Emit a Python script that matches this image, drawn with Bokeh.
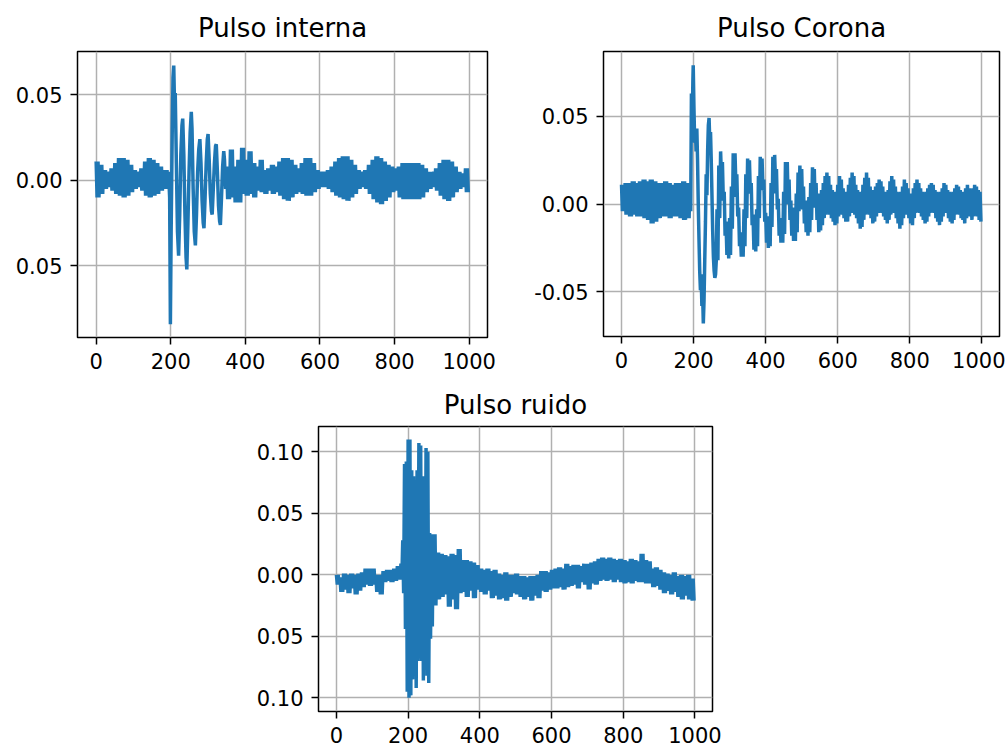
from bokeh.plotting import figure
from bokeh.layouts import column, row
from bokeh.models import Range1d, FixedTicker
from bokeh.embed import file_html
from bokeh.resources import INLINE

# ---------------- data ----------------
x_ticks = [0, 200, 400, 600, 800, 1000]

# Pulso interna: envelope (upper / lower) of the dense signal, 10-sample bins
interna_pre_x0 = 0
interna_pre_up = [0.011, 0.009, 0.006, 0.005, 0.007, 0.010, 0.013, 0.013, 0.012, 0.009,
                  0.006, 0.005, 0.007, 0.011, 0.013, 0.012, 0.010, 0.008, 0.006]
interna_pre_lo = [-0.010, -0.008, -0.005, -0.004, -0.006, -0.008, -0.009, -0.010, -0.009, -0.007,
                  -0.005, -0.004, -0.006, -0.009, -0.010, -0.009, -0.008, -0.006, -0.005]
interna_pulse_x = [190, 192, 194, 197, 199, 201, 204, 206, 208, 210, 212, 215, 218, 221, 224, 227,
                   230, 232, 235, 238, 241, 243, 246, 249, 252, 255, 257, 260, 263, 266, 269, 272,
                   275, 278, 281, 284, 287, 289, 292, 295, 298, 300, 303, 306, 309, 311, 314, 317,
                   320, 322, 325, 328, 331, 333, 336, 339, 342, 344, 347]
interna_pulse_y = [0.006, -0.005, 0.005, -0.010, -0.084, -0.030, 0.030, 0.060, 0.067, 0.045, 0.051,
                   0.010, -0.030, -0.044, -0.020, 0.015, 0.032, 0.036, 0.015, -0.020, -0.045, -0.052,
                   -0.025, 0.005, 0.028, 0.040, 0.030, -0.005, -0.030, -0.038, -0.020, 0.005,
                   0.018, 0.024, 0.010, -0.012, -0.025, -0.028, -0.010, 0.010, 0.024, 0.027,
                   0.012, -0.008, -0.018, -0.020, -0.005, 0.010, 0.020, 0.021, 0.005, -0.015,
                   -0.024, -0.026, -0.010, 0.008, 0.017, 0.012, -0.005]
interna_post_x0 = 350
interna_post_up = [0.008, 0.018, 0.008, 0.012, 0.019, 0.012, 0.017, 0.010, 0.008, 0.012,
                   0.006, 0.007, 0.009, 0.008, 0.011, 0.013, 0.013, 0.012, 0.009, 0.007,
                   0.010, 0.013, 0.013, 0.010, 0.006, 0.005, 0.005, 0.006, 0.008, 0.011,
                   0.013, 0.014, 0.014, 0.012, 0.009, 0.006, 0.005, 0.006, 0.009, 0.012,
                   0.014, 0.013, 0.011, 0.009, 0.008, 0.007, 0.008, 0.010, 0.010, 0.010,
                   0.010, 0.010, 0.009, 0.007, 0.005, 0.005, 0.007, 0.010, 0.012, 0.012,
                   0.011, 0.008, 0.005, 0.004, 0.007]
interna_post_lo = [-0.011, -0.010, -0.013, -0.013, -0.008, -0.009, -0.008, -0.010, -0.006, -0.007,
                   -0.008, -0.006, -0.008, -0.007, -0.009, -0.011, -0.012, -0.010, -0.008, -0.007,
                   -0.008, -0.009, -0.009, -0.007, -0.005, -0.004, -0.004, -0.005, -0.007, -0.009,
                   -0.010, -0.011, -0.012, -0.010, -0.008, -0.005, -0.004, -0.005, -0.008, -0.011,
                   -0.013, -0.014, -0.012, -0.010, -0.007, -0.006, -0.010, -0.011, -0.011, -0.011,
                   -0.011, -0.011, -0.010, -0.007, -0.005, -0.004, -0.006, -0.009, -0.011, -0.012,
                   -0.010, -0.007, -0.005, -0.004, -0.007]

# Pulso Corona
corona_pre_x0 = 0
corona_pre_up = [0.011, 0.012, 0.012, 0.013, 0.012, 0.013, 0.014, 0.013, 0.014, 0.013,
                 0.012, 0.012, 0.013, 0.012, 0.011, 0.012, 0.012, 0.013, 0.012]
corona_pre_lo = [-0.004, -0.006, -0.007, -0.006, -0.007, -0.007, -0.008, -0.009, -0.011, -0.010,
                 -0.008, -0.007, -0.007, -0.008, -0.007, -0.007, -0.008, -0.009, -0.008]
corona_pulse_x = [190, 192, 194, 196, 198, 199, 201, 203, 205, 207, 209, 211, 213, 215, 217, 219,
                  221, 223, 225, 227, 229, 231, 233, 235, 237, 239, 241, 243, 245, 247, 249, 251,
                  253, 255, 257, 259, 261, 263]
corona_pulse_y = [0.012, -0.004, 0.063, 0.040, 0.070, 0.079, 0.055, 0.035, 0.043, 0.030, 0.043,
                  0.025, 0.000, -0.020, -0.038, -0.049, -0.040, -0.058, -0.050, -0.068, -0.055,
                  -0.032, -0.010, 0.017, 0.005, 0.030, 0.045, 0.049, 0.035, 0.041, 0.025, 0.005,
                  -0.015, -0.030, -0.038, -0.042, -0.040, -0.032]
corona_post_x0 = 265
corona_post_up = [-0.003, 0.022, 0.030, 0.024, 0.007, -0.010, -0.016, -0.008, 0.010, 0.029,
                  0.029, 0.017, -0.002, -0.016, -0.018, -0.003, 0.017, 0.026, 0.025, 0.012,
                  -0.006, -0.014, -0.003, 0.016, 0.027, 0.026, 0.014, -0.005, -0.012, -0.007,
                  0.012, 0.027, 0.028, 0.020, 0.003, -0.008, -0.008, 0.007, 0.024, 0.024,
                  0.014, 0.002, -0.002, -0.002, 0.006, 0.018, 0.022, 0.020, 0.010, 0.002,
                  0.002, 0.004, 0.012, 0.021, 0.020, 0.012, 0.004,
                  0.006, 0.008, 0.012, 0.016, 0.018, 0.016, 0.011, 0.008, 0.006, 0.007,
                  0.011, 0.016, 0.014, 0.009, 0.006, 0.007, 0.011, 0.015, 0.018, 0.016,
                  0.011, 0.008, 0.006, 0.007, 0.011, 0.015, 0.018, 0.015, 0.010, 0.007,
                  0.008, 0.010, 0.012, 0.014, 0.013, 0.010, 0.007, 0.006, 0.008, 0.013,
                  0.016, 0.014, 0.010, 0.007, 0.006, 0.007, 0.010, 0.014, 0.012, 0.009,
                  0.006, 0.006, 0.009, 0.012, 0.014, 0.012, 0.009, 0.007, 0.006, 0.007,
                  0.009, 0.011, 0.012, 0.011, 0.008, 0.007, 0.006, 0.007, 0.009, 0.012,
                  0.011, 0.008, 0.007, 0.006, 0.007, 0.009, 0.011, 0.010, 0.008, 0.007,
                  0.006, 0.009, 0.011, 0.009, 0.007, 0.009, 0.011, 0.010, 0.008, 0.007]
corona_post_lo = [-0.032, -0.008, 0.014, 0.002, -0.018, -0.029, -0.031, -0.029, -0.014, 0.004,
                  0.010, -0.007, -0.024, -0.030, -0.030, -0.024, -0.008, 0.010, 0.006, -0.012,
                  -0.026, -0.027, -0.024, -0.008, 0.010, 0.008, -0.010, -0.022, -0.025, -0.024,
                  -0.013, 0.006, 0.012, -0.003, -0.018, -0.022, -0.022, -0.017, 0.000, 0.000,
                  -0.009, -0.018, -0.021, -0.021, -0.016, -0.004, -0.002, -0.003, -0.011, -0.016,
                  -0.018, -0.016, -0.009, -0.002, -0.002, -0.009, -0.016,
                  -0.015, -0.012, -0.008, -0.006, -0.005, -0.006, -0.008, -0.010, -0.012, -0.011,
                  -0.007, -0.005, -0.006, -0.008, -0.010, -0.010, -0.007, -0.005, -0.005, -0.006,
                  -0.008, -0.011, -0.014, -0.013, -0.009, -0.006, -0.005, -0.006, -0.008, -0.011,
                  -0.010, -0.007, -0.005, -0.004, -0.005, -0.007, -0.009, -0.011, -0.009, -0.006,
                  -0.004, -0.005, -0.008, -0.011, -0.014, -0.012, -0.008, -0.005, -0.006, -0.008,
                  -0.011, -0.012, -0.008, -0.005, -0.004, -0.005, -0.007, -0.009, -0.011, -0.010,
                  -0.007, -0.005, -0.004, -0.005, -0.008, -0.010, -0.012, -0.010, -0.007, -0.005,
                  -0.005, -0.008, -0.010, -0.011, -0.009, -0.006, -0.005, -0.006, -0.008, -0.009,
                  -0.011, -0.008, -0.006, -0.007, -0.009, -0.007, -0.006, -0.007, -0.009, -0.010]

# Pulso ruido
ruido_pre_x0 = 0
ruido_pre_up = [0.000, -0.002, 0.001, 0.000, 0.001, 0.000, 0.001, 0.002, 0.005, 0.005,
                0.005, 0.000, 0.000, 0.003, 0.004, 0.004, 0.005, 0.007]
ruido_pre_lo = [-0.008, -0.014, -0.012, -0.015, -0.011, -0.016, -0.013, -0.010, -0.008, -0.009,
                -0.008, -0.014, -0.016, -0.006, -0.005, -0.006, -0.005, -0.004]
ruido_burst_x0 = 180
ruido_burst_up = [0.009, 0.028, 0.090, 0.092, 0.110, 0.110, 0.085, 0.080, 0.075, 0.085,
                  0.107, 0.105, 0.075, 0.080, 0.103, 0.100, 0.034, 0.033]
ruido_burst_lo = [-0.004, -0.015, -0.044, -0.095, -0.100, -0.098, -0.085, -0.068, -0.092, -0.070,
                  -0.068, -0.070, -0.086, -0.075, -0.082, -0.088, -0.052, -0.042]
ruido_post_x0 = 270
ruido_post_up = [0.033, 0.018, 0.017, 0.016, 0.015, 0.017, 0.016, 0.021, 0.012, 0.012,
                 0.011, 0.010, 0.008, 0.005, 0.004, 0.005, 0.003, 0.004, 0.001, 0.000,
                 0.002, 0.000, 0.000, 0.001, -0.001, -0.001, -0.002, -0.001, -0.001, 0.000,
                 0.003, 0.003, 0.002, 0.004, 0.005, 0.006, 0.005, 0.009, 0.007, 0.008,
                 0.008, 0.007, 0.009, 0.009, 0.010, 0.011, 0.013, 0.014, 0.013, 0.014,
                 0.013, 0.012, 0.013, 0.012, 0.011, 0.013, 0.012, 0.011, 0.017, 0.012,
                 0.011, 0.005, 0.006, 0.004, 0.002, 0.001, 0.000, 0.002, -0.001, 0.000,
                 -0.001, 0.000, -0.003]
ruido_post_lo = [-0.025, -0.020, -0.018, -0.016, -0.026, -0.020, -0.028, -0.015, -0.014, -0.018,
                 -0.013, -0.019, -0.012, -0.014, -0.016, -0.013, -0.019, -0.017, -0.020, -0.019,
                 -0.021, -0.018, -0.015, -0.016, -0.018, -0.020, -0.018, -0.021, -0.017, -0.019,
                 -0.013, -0.014, -0.012, -0.011, -0.011, -0.010, -0.012, -0.010, -0.009, -0.008,
                 -0.011, -0.006, -0.008, -0.012, -0.007, -0.008, -0.005, -0.004, -0.005, -0.004,
                 -0.006, -0.004, -0.006, -0.007, -0.006, -0.007, -0.005, -0.006, -0.006, -0.007,
                 -0.007, -0.010, -0.009, -0.012, -0.015, -0.013, -0.016, -0.014, -0.018, -0.020,
                 -0.017, -0.020, -0.021]


# ---------------- drawing helpers ----------------
def band(x0, step, upper, lower, reps=1):
    """Dense oscillating trace between the read upper/lower extents of each bin."""
    xs, ys = [], []
    sub = step / reps
    for i, (u, l) in enumerate(zip(upper, lower)):
        for r in range(reps):
            x = x0 + i * step + r * sub
            xs += [x, x + sub / 2]
            ys += [u, l]
    return xs, ys


def assemble(parts):
    xs, ys = [], []
    for px, py in parts:
        xs += list(px)
        ys += list(py)
    return xs, ys


FONT = "DejaVu Sans"
BLUE = "#1f77b4"


def make_fig(title, y_lo, y_hi, yticks, ylabels, fw, fh, left, right, top, bottom, standoff):
    p = figure(output_backend="svg", toolbar_location=None,
               frame_width=fw, frame_height=fh,
               min_border_left=left, min_border_right=right,
               min_border_top=top, min_border_bottom=bottom,
               x_range=Range1d(-50, 1049), y_range=Range1d(y_lo, y_hi))
    p.title.text = title
    p.title.align = "center"
    p.title.text_font = FONT
    p.title.text_font_size = "26px"
    p.title.text_font_style = "normal"
    p.title.text_color = "black"
    p.title.standoff = standoff
    p.background_fill_color = "white"
    p.border_fill_color = "white"
    p.outline_line_color = "black"
    p.outline_line_width = 1.5
    p.xaxis.ticker = FixedTicker(ticks=x_ticks)
    p.yaxis.ticker = FixedTicker(ticks=yticks)
    p.yaxis.major_label_overrides = {t: s for t, s in zip(yticks, ylabels)}
    for ax in (p.xaxis[0], p.yaxis[0]):
        ax.axis_line_color = None
        ax.major_tick_line_color = "black"
        ax.major_tick_line_width = 1.5
        ax.major_tick_out = 7
        ax.major_tick_in = 0
        ax.minor_tick_line_color = None
        ax.major_label_text_font = FONT
        ax.major_label_text_font_size = "21px"
        ax.major_label_text_color = "black"
    p.xaxis.major_label_standoff = 8
    p.yaxis.major_label_standoff = 8
    for g in (p.xgrid[0], p.ygrid[0]):
        g.grid_line_color = "#b0b0b0"
        g.grid_line_width = 1.5
    return p


# ---------------- figures ----------------
p1 = make_fig("Pulso interna", -0.0918, 0.0752, [-0.05, 0.0, 0.05], ["0.05", "0.00", "0.05"],
              410, 286, 77, 20, 51, 42, 18)
x1, y1 = assemble([band(interna_pre_x0, 10, interna_pre_up, interna_pre_lo, reps=2),
                   (interna_pulse_x, interna_pulse_y),
                   band(interna_post_x0, 10, interna_post_up, interna_post_lo, reps=2)])
p1.line(x1, y1, line_color=BLUE, line_width=3.5)

p2 = make_fig("Pulso Corona", -0.0754, 0.0869, [-0.05, 0.0, 0.05], ["-0.05", "0.00", "0.05"],
              396, 285, 96, 6, 51, 43, 18)
x2, y2 = assemble([band(corona_pre_x0, 10, corona_pre_up, corona_pre_lo, reps=2),
                   (corona_pulse_x, corona_pulse_y),
                   band(corona_post_x0, 5, corona_post_up, corona_post_lo, reps=1)])
p2.line(x2, y2, line_color=BLUE, line_width=3.5)

p3 = make_fig("Pulso ruido", -0.1111, 0.1205, [-0.1, -0.05, 0.0, 0.05, 0.1],
              ["0.10", "0.05", "0.00", "0.05", "0.10"],
              394, 285, 318, 20, 47, 40, 14)
x3, y3 = assemble([band(ruido_pre_x0, 10, ruido_pre_up, ruido_pre_lo, reps=2),
                   band(ruido_burst_x0, 5, ruido_burst_up, ruido_burst_lo, reps=1),
                   band(ruido_post_x0, 10, ruido_post_up, ruido_post_lo, reps=2)])
p3.line(x3, y3, line_color=BLUE, line_width=3.5)

layout = column(row(p1, p2), p3)

html = file_html(layout, INLINE)
html = html.replace("<head>", "<head><style>html, body {overflow: hidden;}</style>", 1)
open("out.html", "w").write(html)
